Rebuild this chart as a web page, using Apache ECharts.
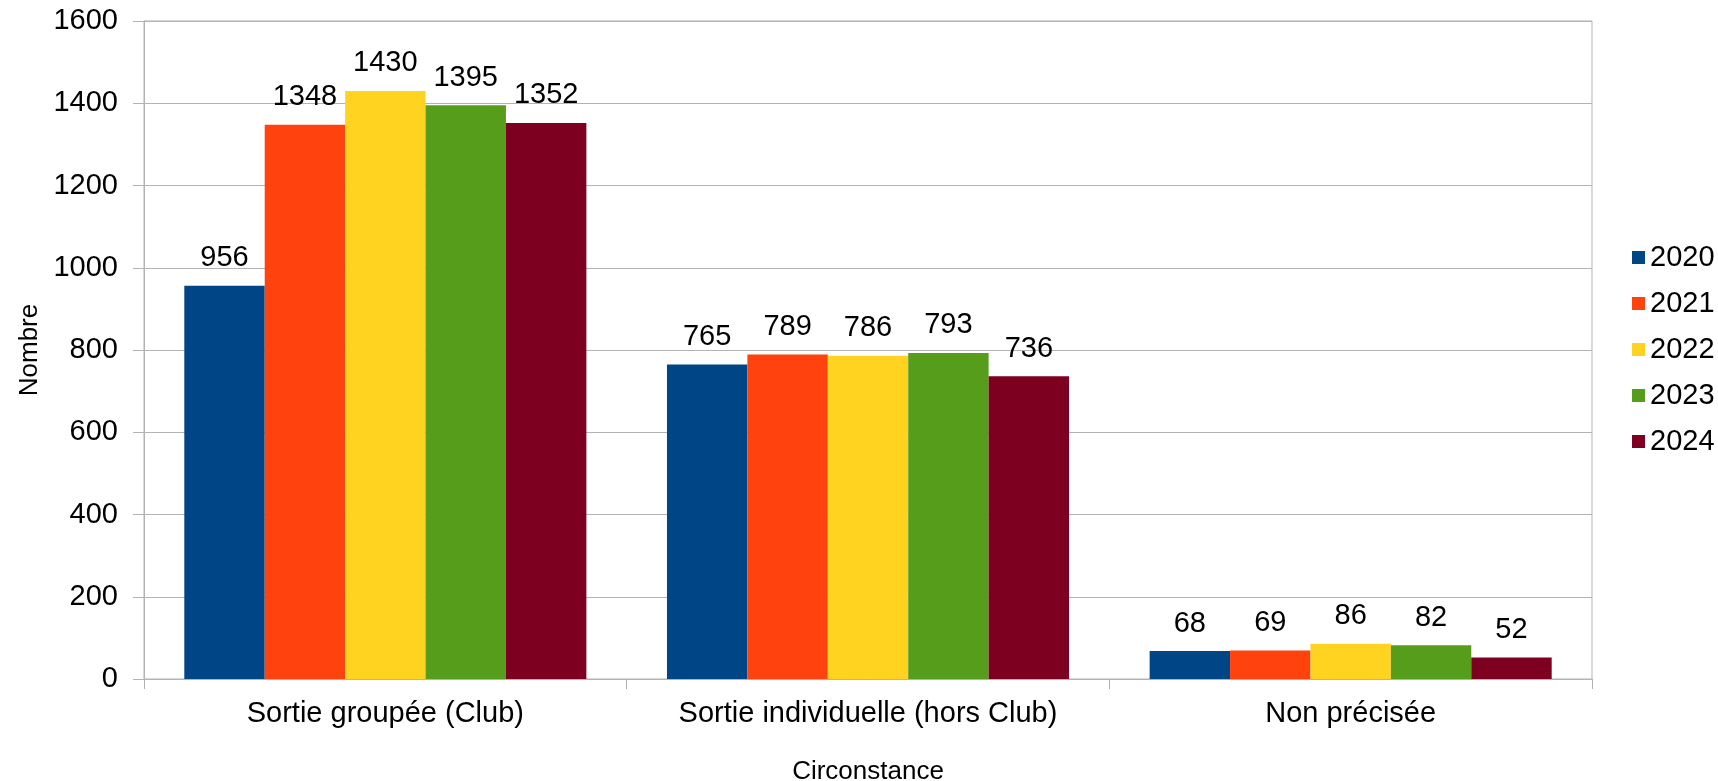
<!DOCTYPE html>
<html>
<head>
<meta charset="utf-8">
<script src="https://cdn.jsdelivr.net/npm/echarts@6/dist/echarts.min.js"></script>
<style>
  html, body { margin: 0; padding: 0; background: #fff; }
  .wrapper { width: 1718px; height: 781px; }
</style>
</head>
<body>
<div class="wrapper"></div>
<script>
// categories and values
var categories = ['Sortie groupée (Club)', 'Sortie individuelle (hors Club)', 'Non précisée'];
var years = ['2020', '2021', '2022', '2023', '2024'];
var v2020 = [956, 765, 68];
var v2021 = [1348, 789, 69];
var v2022 = [1430, 786, 86];
var v2023 = [1395, 793, 82];
var v2024 = [1352, 736, 52];
var colors = ['#004586', '#ff420e', '#ffd320', '#579d1c', '#7e0021'];

var font = 'Liberation Sans, Arial, sans-serif';
var grey = '#b3b3b3';

var myChart = echarts.init(document.getElementsByClassName('wrapper')[0]);

var allValues = [v2020, v2021, v2022, v2023, v2024];
var series = years.map(function (y, i) {
  return {
    name: y,
    type: 'bar',
    data: allValues[i],
    barGap: '0%',
    barCategoryGap: '16.7%',
    itemStyle: { color: colors[i] },
    label: {
      show: true,
      position: 'top',
      distance: 13,
      color: '#000',
      fontFamily: font,
      fontSize: 29
    }
  };
});

var option = {
  animation: false,
  color: colors,
  grid: {
    left: 144, right: 126, top: 21, bottom: 102,
    outerBoundsMode: 'none',
    containLabel: false,
    show: true, borderColor: grey, borderWidth: 1
  },
  legend: {
    orient: 'vertical',
    left: 1632,
    top: 243,
    padding: 0,
    itemWidth: 13,
    itemHeight: 13,
    itemGap: 17,
    icon: 'rect',
    data: years,
    textStyle: { fontFamily: font, fontSize: 29, color: '#000' }
  },
  xAxis: {
    type: 'category',
    data: categories,
    name: 'Circonstance',
    nameLocation: 'middle',
    nameGap: 80,
    nameTextStyle: { fontFamily: font, fontSize: 26, color: '#000' },
    axisLine: { lineStyle: { color: grey } },
    axisTick: { show: true, length: 10, lineStyle: { color: grey } },
    axisLabel: { interval: 0, fontFamily: font, fontSize: 29, color: '#000', margin: 20 }
  },
  yAxis: {
    type: 'value',
    min: 0,
    max: 1600,
    interval: 200,
    name: 'Nombre',
    nameLocation: 'middle',
    nameGap: 101,
    nameTextStyle: { fontFamily: font, fontSize: 26, color: '#000' },
    axisLine: { show: true, lineStyle: { color: grey } },
    axisTick: { show: true, length: 11, lineStyle: { color: grey } },
    axisLabel: {
      fontFamily: font, fontSize: 29, color: '#000', margin: 26,
      formatter: function (v) { return String(v); }
    },
    splitLine: { lineStyle: { color: grey } }
  },
  series: series
};

myChart.setOption(option);
</script>
</body>
</html>
